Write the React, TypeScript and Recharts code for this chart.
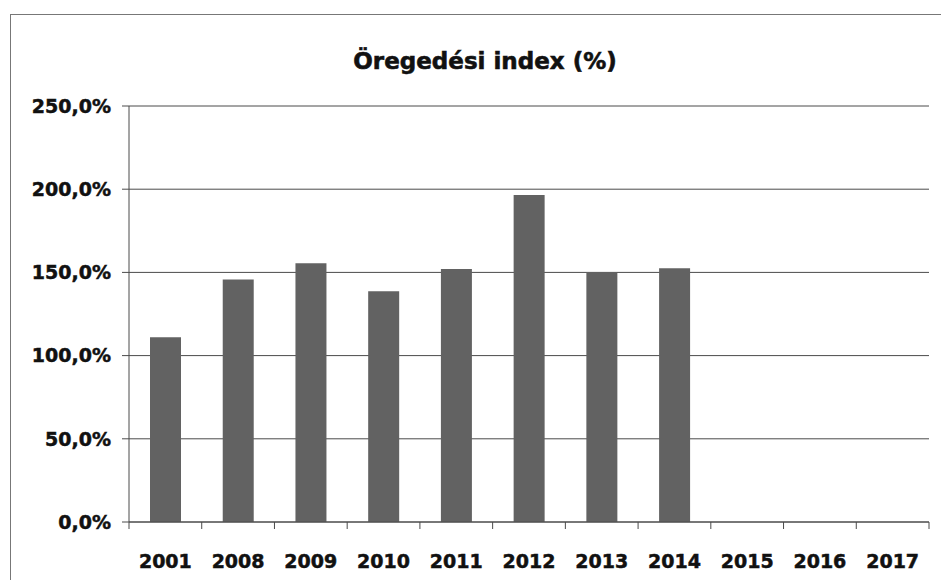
import { BarChart, Bar, XAxis, YAxis, CartesianGrid } from 'recharts';

const years = ['2001', '2008', '2009', '2010', '2011', '2012', '2013', '2014', '2015', '2016', '2017'];
const agingIndex: (number | null)[] = [111, 145.7, 155.5, 138.6, 152, 196.5, 150.2, 152.5, null, null, null];
const yTicks = [0, 50, 100, 150, 200, 250];

const data = years.map((year, i) => ({ year, value: agingIndex[i] }));

const W = 938;
const H = 565;
const MARGIN = { top: 91, right: 20, left: 0, bottom: 0 };
const Y_WIDTH = 118;
const X_HEIGHT = 58;
const BAND = (W - MARGIN.right - Y_WIDTH) / years.length;
const FONT = "'DejaVu Sans', sans-serif";
const INK = '#111';
const LINE = '#4a4a4a';

function pct(v: number) {
  return `${v.toFixed(1).replace('.', ',')}%`;
}

function YearTick(props: any) {
  const { x, y, payload, index } = props;
  const last = index === years.length - 1;
  return (
    <g>
      <line x1={x - BAND / 2} x2={x - BAND / 2} y1={y} y2={y + 7} stroke={LINE} />
      {last && <line x1={x + BAND / 2} x2={x + BAND / 2} y1={y} y2={y + 7} stroke={LINE} />}
      <text
        x={x}
        y={y + 46}
        textAnchor="middle"
        fontFamily={FONT}
        fontWeight="bold"
        fontSize={19}
        fill={INK}
        stroke={INK}
        strokeWidth={0.5}
      >
        {payload.value}
      </text>
    </g>
  );
}

export default function App() {
  return (
    <div
      style={{
        position: 'relative',
        marginTop: 6,
        marginLeft: 2,
        width: W,
        height: H,
        borderLeft: '1px solid #777',
        borderTop: '1px solid #777',
        background: '#fff',
      }}
    >
      <div
        style={{
          position: 'absolute',
          left: 0,
          width: 948,
          top: 33,
          textAlign: 'center',
          fontFamily: FONT,
          fontWeight: 'bold',
          fontSize: 23,
          lineHeight: '27px',
          color: INK,
          WebkitTextStroke: '0.6px #111',
        }}
      >
        Öregedési index (%)
      </div>
      <BarChart width={W} height={H} data={data} margin={MARGIN} barSize={31}>
        <CartesianGrid vertical={false} stroke={LINE} />
        <XAxis
          dataKey="year"
          height={X_HEIGHT}
          axisLine={{ stroke: LINE }}
          tickLine={false}
          tickSize={0}
          tickMargin={0}
          interval={0}
          tick={<YearTick />}
        />
        <YAxis
          width={Y_WIDTH}
          domain={[0, 250]}
          ticks={yTicks}
          tickFormatter={pct}
          axisLine={{ stroke: LINE }}
          tickLine={{ stroke: LINE }}
          tickSize={7}
          tickMargin={11}
          tick={{ fontFamily: FONT, fontWeight: 'bold', fontSize: 19, fill: INK, stroke: INK, strokeWidth: 0.5 }}
        />
        <Bar dataKey="value" fill="#626262" isAnimationActive={false} />
      </BarChart>
    </div>
  );
}
